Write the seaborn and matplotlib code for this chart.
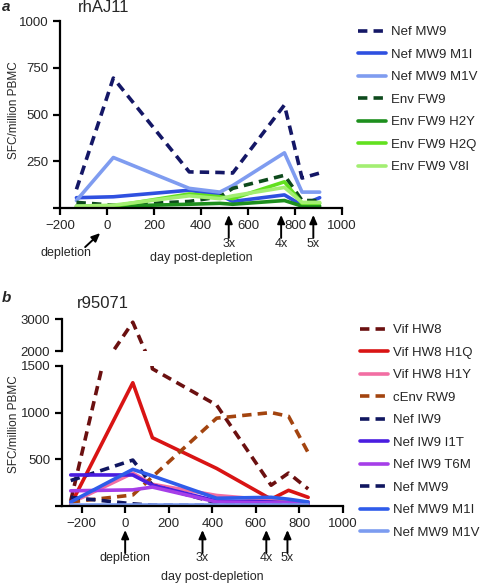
import matplotlib
matplotlib.use("Agg")
import matplotlib.pyplot as plt
import seaborn as sns
import numpy as np

sns.set_style("ticks")
plt.rcParams['font.family'] = ['Liberation Sans', 'DejaVu Sans']

# ---- datos panel a (rhAJ11) ----
days_a = [-130, 27, 350, 480, 535, 755, 830, 905]
nef_mw9_a = [100, 695, 193, 190, 187, 551, 160, 187]
nef_mw9_m1i_a = [55, 60, 95, 70, 35, 70, 15, 55]
nef_mw9_m1v_a = [40, 270, 105, 85, 120, 295, 85, 85]
env_fw9 = [30, 15, 35, 60, 105, 175, 40, 40]
env_fw9_h2y = [10, 10, 20, 25, 20, 40, 10, 10]
env_fw9_h2q = [5, 10, 75, 60, 50, 140, 25, 25]
env_fw9_v8i = [10, 15, 65, 50, 65, 110, 30, 30]

# ---- datos panel b (r95071) ----
days_b = [-250, 35, 125, 420, 670, 750, 840]
vif_hw8 = [50, 2900, 1470, 1080, 220, 350, 180]
vif_hw8_h1q = [10, 1320, 730, 400, 70, 165, 90]
vif_hw8_h1y = [30, 350, 230, 110, 60, 50, 40]
cenv_rw9 = [40, 115, 310, 940, 1000, 960, 570]
nef_iw9 = [270, 490, 220, 30, 20, 20, 10]
nef_iw9_i1t = [330, 330, 220, 50, 40, 30, 20]
nef_iw9_t6m = [160, 170, 200, 40, 30, 30, 20]
nef_mw9_b = [90, 20, 5, 2, 2, 2, 2]
nef_mw9_m1i_b = [40, 390, 320, 80, 90, 70, 40]
nef_mw9_m1v_b = [10, 10, 10, 10, 10, 10, 10]

labels_a = ['Nef MW9', 'Nef MW9 M1I', 'Nef MW9 M1V', 'Env FW9',
            'Env FW9 H2Y', 'Env FW9 H2Q', 'Env FW9 V8I']
series_a = [nef_mw9_a, nef_mw9_m1i_a, nef_mw9_m1v_a, env_fw9,
            env_fw9_h2y, env_fw9_h2q, env_fw9_v8i]
colors_a = ['#141766', '#2f50e0', '#7f9cf0', '#0e4a1c',
            '#1d8f1d', '#62e01f', '#a3ee72']
dashed_a = [True, False, False, True, False, False, False]

labels_b = ['Vif HW8', 'Vif HW8 H1Q', 'Vif HW8 H1Y', 'cEnv RW9', 'Nef IW9',
            'Nef IW9 I1T', 'Nef IW9 T6M', 'Nef MW9', 'Nef MW9 M1I', 'Nef MW9 M1V']
series_b = [vif_hw8, vif_hw8_h1q, vif_hw8_h1y, cenv_rw9, nef_iw9,
            nef_iw9_i1t, nef_iw9_t6m, nef_mw9_b, nef_mw9_m1i_b, nef_mw9_m1v_b]
colors_b = ['#6b1010', '#d91414', '#f26ea3', '#a3440f', '#101660',
            '#4a1de0', '#a53ee8', '#101660', '#2f5cea', '#7c9cf0']
dashed_b = [True, False, False, True, True, False, False, True, False, False]

LW = 2.6
DASH = (0, (2.6, 1.7))


def dibujar(ax, days, vals, color, dashed, label):
    sns.lineplot(x=days, y=vals, color=color, lw=LW, ax=ax, label=label,
                 linestyle=DASH if dashed else '-', legend=False)


def estilo(ax):
    for s in ['top', 'right']:
        ax.spines[s].set_visible(False)
    for s in ['left', 'bottom']:
        ax.spines[s].set_linewidth(1.6)
        ax.spines[s].set_color('black')
    ax.tick_params(width=1.6, length=5, color='black', labelsize=9.5)


fig = plt.figure(figsize=(4.8, 5.84), dpi=100)
W, H = 480, 584
leg_kw = dict(frameon=False, fontsize=9.5, handlelength=2.1, handletextpad=0.4,
              labelspacing=0.78, borderaxespad=0, borderpad=0)

# ---- panel a ----
ax_a = fig.add_axes([60 / W, 1 - 208 / H, 282 / W, 187 / H])
for vals, c, d, lab in zip(series_a, colors_a, dashed_a, labels_a):
    dibujar(ax_a, days_a, vals, c, d, lab)
ax_a.set_xlim(-200, 1000)
ax_a.set_ylim(0, 1000)
ax_a.set_xticks(range(-200, 1001, 200))
ax_a.set_yticks([0, 250, 500, 750, 1000])
ax_a.set_yticklabels(['', '250', '500', '750', '1000'])
ax_a.set_xlabel('')
estilo(ax_a)
ax_a.legend(loc='upper left', bbox_to_anchor=(358 / W, 1 - 26 / H),
            bbox_transform=fig.transFigure, **leg_kw)

# ---- panel b (eje cortado) ----
ax_b = fig.add_axes([62 / W, 1 - 505.7 / H, 281 / W, 139.7 / H])
ax_t = fig.add_axes([62 / W, 1 - 351 / H, 281 / W, 32 / H], sharex=ax_b)
for vals, c, d, lab in zip(series_b, colors_b, dashed_b, labels_b):
    dibujar(ax_b, days_b, vals, c, d, lab)
    dibujar(ax_t, days_b, vals, c, d, lab)
ax_b.set_xlim(-290, 1000)
ax_b.set_ylim(0, 1500)
ax_t.set_ylim(2000, 3000)
ax_b.set_xticks(range(-200, 1001, 200))
ax_b.set_yticks([0, 500, 1000, 1500])
ax_b.set_yticklabels(['', '500', '1000', '1500'])
ax_t.set_yticks([2000, 3000])
estilo(ax_b)
estilo(ax_t)
ax_t.spines['bottom'].set_visible(False)
ax_t.tick_params(axis='x', bottom=False, labelbottom=False)
ax_t.patch.set_alpha(0)
ax_b.set_xlabel('')
ax_b.legend(loc='upper left', bbox_to_anchor=(360 / W, 1 - 324 / H),
            bbox_transform=fig.transFigure, **leg_kw)

# ---- flechas y textos ----
flecha = dict(arrowstyle='-|>,head_length=0.5,head_width=0.22', lw=1.4,
              color='black', shrinkA=0, shrinkB=0)
tr_a = ax_a.get_xaxis_transform()
for dia, txt in [(518, '3x'), (741, '4x'), (878, '5x')]:
    ax_a.annotate('', xy=(dia, -0.037), xytext=(dia, -0.16), xycoords=tr_a,
                  textcoords=tr_a, arrowprops=flecha, annotation_clip=False)
    ax_a.text(dia, -0.19, txt, transform=tr_a, ha='center', va='center', fontsize=9)
ax_a.annotate('', xy=(-29, -0.134), xytext=(-93, -0.209), xycoords=tr_a,
              textcoords=tr_a, arrowprops=flecha, annotation_clip=False)
ax_a.text(-175, -0.24, 'depletion', transform=tr_a, ha='center', va='center', fontsize=9)
ax_a.text(400, -0.267, 'day post-depletion', transform=tr_a, ha='center',
          va='center', fontsize=9)

tr_b = ax_b.get_xaxis_transform()
for dia, txt in [(0, 'depletion'), (355, '3x'), (648, '4x'), (745, '5x')]:
    ax_b.annotate('', xy=(dia, -0.174), xytext=(dia, -0.339), xycoords=tr_b,
                  textcoords=tr_b, arrowprops=flecha, annotation_clip=False)
    ax_b.text(dia, -0.375, txt, transform=tr_b, ha='center', va='center', fontsize=9)
ax_b.text(400, -0.51, 'day post-depletion', transform=tr_b, ha='center',
          va='center', fontsize=9)

fig.text(14 / W, 1 - 110 / H, 'SFC/million PBMC', rotation=90, ha='center',
         va='center', fontsize=8.5)
fig.text(14 / W, 1 - 424 / H, 'SFC/million PBMC', rotation=90, ha='center',
         va='center', fontsize=8.5)
fig.text(104 / W, 1 - 8 / H, 'rhAJ11', ha='center', va='center', fontsize=12)
fig.text(103 / W, 1 - 303 / H, 'r95071', ha='center', va='center', fontsize=12)
fig.text(2 / W, 1 - 7 / H, 'a', ha='left', va='center', fontsize=11,
         fontweight='bold', fontstyle='italic')
fig.text(2 / W, 1 - 298 / H, 'b', ha='left', va='center', fontsize=11,
         fontweight='bold', fontstyle='italic')

fig.savefig('out.png', dpi=100)
